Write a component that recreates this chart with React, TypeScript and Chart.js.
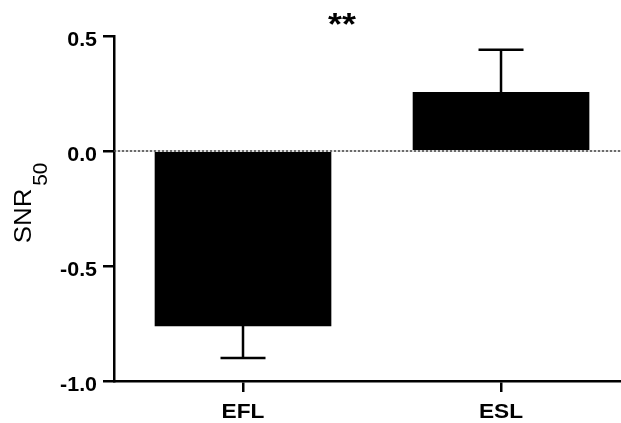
import React, { useEffect, useRef } from 'react';
import { Chart, registerables } from 'chart.js';

Chart.register(...registerables);

const categories = ['EFL', 'ESL'];
const means = [-0.76, 0.255];
const errors = [0.14, 0.185];
const yTicks = [-1.0, -0.5, 0.0, 0.5];
const significance = '**';
const yTitleMain = 'SNR';
const yTitleSub = '50';

const FONT = "'Liberation Sans', Arial, Helvetica, sans-serif";

function drawStretched(
  ctx: CanvasRenderingContext2D,
  text: string,
  x: number,
  y: number,
  sx: number,
  align: 'left' | 'right' | 'center',
) {
  const w = ctx.measureText(text).width * sx;
  let left = x;
  if (align === 'right') left = x - w;
  if (align === 'center') left = x - w / 2;
  ctx.save();
  ctx.translate(left, y);
  ctx.scale(sx, 1);
  ctx.textAlign = 'left';
  ctx.fillText(text, 0, 0);
  ctx.restore();
}

export default function App() {
  const ref = useRef<HTMLCanvasElement | null>(null);

  useEffect(() => {
    document.body.style.margin = '0';
    const canvas = ref.current;
    if (!canvas) return;

    const overlay = {
      id: 'overlay',
      afterDatasetsDraw(chart: any) {
        const { ctx, chartArea, scales } = chart;
        const xs = scales.x;
        const ys = scales.y;
        const y0 = ys.getPixelForValue(0);
        // dotted zero line
        ctx.save();
        ctx.lineWidth = 1.2;
        ctx.strokeStyle = '#bbbbbb';
        ctx.beginPath();
        ctx.moveTo(chartArea.left, y0);
        ctx.lineTo(chartArea.right, y0);
        ctx.stroke();
        ctx.setLineDash([2, 2]);
        ctx.strokeStyle = '#222222';
        ctx.beginPath();
        ctx.moveTo(chartArea.left, y0);
        ctx.lineTo(chartArea.right, y0);
        ctx.stroke();
        ctx.restore();
        // error bars (one-sided, away from zero)
        ctx.save();
        ctx.strokeStyle = '#000';
        ctx.lineWidth = 2.5;
        for (let i = 0; i < categories.length; i++) {
          const x = xs.getPixelForValue(i);
          const m = means[i];
          const end = m + Math.sign(m) * errors[i];
          const ym = ys.getPixelForValue(m);
          const ye = ys.getPixelForValue(end);
          ctx.beginPath();
          ctx.moveTo(x, ym);
          ctx.lineTo(x, ye);
          ctx.moveTo(x - 22.5, ye);
          ctx.lineTo(x + 22.5, ye);
          ctx.stroke();
        }
        ctx.restore();
      },
      afterDraw(chart: any) {
        const { ctx, scales } = chart;
        const xs = scales.x;
        const ys = scales.y;
        ctx.save();
        ctx.fillStyle = '#000';
        ctx.textBaseline = 'alphabetic';
        // y tick labels
        ctx.font = `bold 20px ${FONT}`;
        for (const v of yTicks) {
          const py = ys.getPixelForValue(v);
          drawStretched(ctx, v.toFixed(1), 97, py + 10, 1.07, 'right');
        }
        // x tick labels
        ctx.font = `bold 21px ${FONT}`;
        categories.forEach((c, i) => {
          const px = xs.getPixelForValue(i);
          drawStretched(ctx, c, px, 418, 1.08, 'center');
        });
        // significance marker
        ctx.font = `bold 32px ${FONT}`;
        drawStretched(ctx, significance, 342, 35, 1.12, 'center');
        ctx.restore();
        // y axis title with subscript
        ctx.save();
        ctx.fillStyle = '#000';
        ctx.translate(31, 203);
        ctx.rotate(-Math.PI / 2);
        ctx.textBaseline = 'alphabetic';
        const s1 = 1.08;
        const s2 = 1.06;
        ctx.font = `24px ${FONT}`;
        const wMain = ctx.measureText(yTitleMain).width * s1;
        ctx.font = `19.5px ${FONT}`;
        const wSub = ctx.measureText(yTitleSub).width * s2;
        const gap = 3;
        const total = wMain + gap + wSub;
        ctx.font = `24px ${FONT}`;
        drawStretched(ctx, yTitleMain, -total / 2, 0, s1, 'left');
        ctx.font = `19.5px ${FONT}`;
        drawStretched(ctx, yTitleSub, -total / 2 + wMain + gap, 16, s2, 'left');
        ctx.restore();
      },
    };

    const chart = new Chart(canvas, {
      type: 'bar',
      data: {
        datasets: [
          {
            data: categories.map((_, i) => ({ x: i, y: means[i] })),
            backgroundColor: '#000',
            borderWidth: 0,
            barThickness: 176,
          },
        ],
      },
      options: {
        responsive: false,
        animation: false,
        layout: { padding: { top: 36, right: 0, left: 0, bottom: 0 } },
        plugins: {
          legend: { display: false },
          tooltip: { enabled: false },
          title: { display: false },
        },
        scales: {
          x: {
            type: 'linear',
            position: 'bottom',
            offset: false,
            min: -0.5,
            max: 1.465,
            afterBuildTicks: (s: any) => {
              s.ticks = categories.map((_, i) => ({ value: i }));
            },
            afterFit: (s: any) => {
              s.height = 42;
            },
            grid: {
              display: true,
              offset: false,
              drawOnChartArea: false,
              drawTicks: true,
              tickLength: 11,
              color: '#000',
              lineWidth: 2.5,
            },
            border: { display: true, color: '#000', width: 2.5 },
            ticks: { display: false },
          },
          y: {
            min: -1,
            max: 0.5,
            afterBuildTicks: (s: any) => {
              s.ticks = yTicks.map((v) => ({ value: v }));
            },
            afterFit: (s: any) => {
              s.width = 114;
            },
            grid: {
              display: true,
              drawOnChartArea: false,
              drawTicks: true,
              tickLength: 11,
              color: '#000',
              lineWidth: 2.5,
            },
            border: { display: true, color: '#000', width: 2.5 },
            ticks: { display: false },
          },
        },
      },
      plugins: [overlay],
    } as any);

    return () => {
      chart.destroy();
    };
  }, []);

  return (
    <div style={{ width: 621, height: 423, background: '#fff' }}>
      <canvas ref={ref} width={621} height={423} style={{ display: 'block' }} />
    </div>
  );
}
